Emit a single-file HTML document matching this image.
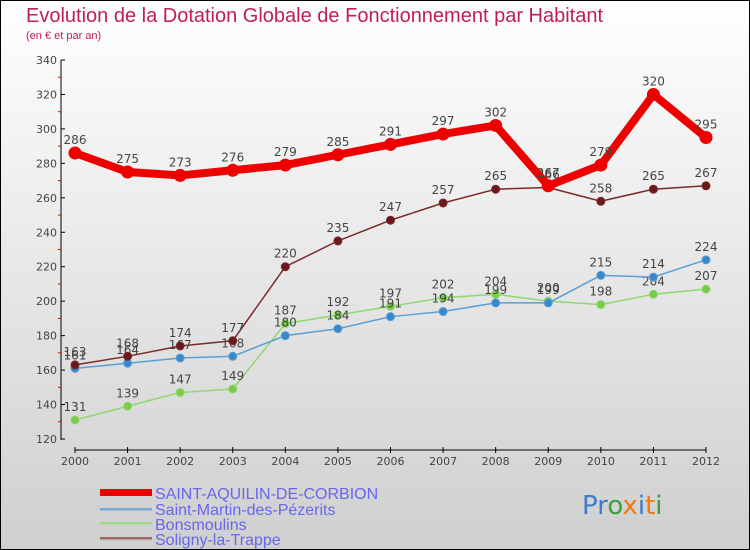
<!DOCTYPE html>
<html><head><meta charset="utf-8"><style>
body{margin:0;}
svg{display:block;font-family:"DejaVu Sans","Liberation Sans",sans-serif;}
</style></head><body>
<svg id="c" width="750" height="550" viewBox="0 0 750 550">
<defs><linearGradient id="bg" x1="0" y1="0" x2="0" y2="1"><stop offset="0" stop-color="#ffffff"/><stop offset="1" stop-color="#cfcfcf"/></linearGradient></defs>
<rect x="0.5" y="0.5" width="749" height="549" fill="url(#bg)" stroke="#000"/>
<text x="26" y="22" font-size="20" fill="#c0204f" style="font-family:'Liberation Sans',sans-serif">Evolution de la Dotation Globale de Fonctionnement par Habitant</text>
<text x="26" y="39" font-size="11" fill="#c0204f" style="font-family:'Liberation Sans',sans-serif">(en € et par an)</text>
<g id="axes"></g><g id="series"></g>
<g style="font-family:'Liberation Sans',sans-serif">
<rect x="100" y="489" width="52" height="7" fill="#ee0000"/>
<text x="155" y="499" font-size="16" fill="#6666ee">SAINT-AQUILIN-DE-CORBION</text>
<rect x="100" y="508" width="52" height="2.5" fill="#7aa9d0"/>
<text x="155" y="515" font-size="16" fill="#6666ee">Saint-Martin-des-Pézerits</text>
<rect x="100" y="522" width="52" height="2.5" fill="#9fd88a"/>
<text x="155" y="530" font-size="16" fill="#6666ee">Bonsmoulins</text>
<rect x="100" y="537" width="52" height="2.5" fill="#9a6a6a"/>
<text x="155" y="545" font-size="16" fill="#6666ee">Soligny-la-Trappe</text>
</g>
<text x="582" y="514" font-size="26"><tspan fill="#3a7dc9">Pr</tspan><tspan fill="#3aa040">o</tspan><tspan fill="#f07a10">x</tspan><tspan fill="#3a7dc9">i</tspan><tspan fill="#f07a10">t</tspan><tspan fill="#3aa040">i</tspan></text>
</svg>
<script>
const years=["2000","2001","2002","2003","2004","2005","2006","2007","2008","2009","2010","2011","2012"];
const yTicks=[120,140,160,180,200,220,240,260,280,300,320,340];
const saintAquilin=[286,275,273,276,279,285,291,297,302,267,279,320,295];
const saintMartin=[161,164,167,168,180,184,191,194,199,199,215,214,224];
const bonsmoulins=[131,139,147,149,187,192,197,202,204,200,198,204,207];
const soligny=[163,168,174,177,220,235,247,257,265,266,258,265,267];
const NS="http://www.w3.org/2000/svg";
const x0=75,x1=706,yMin=120,yMax=340,yTop=60,yBot=439;
function xs(i){return x0+(x1-x0)*i/(years.length-1);}
function ys(v){return yBot-(v-yMin)/(yMax-yMin)*(yBot-yTop);}
function mk(tag,attrs,parent){const e=document.createElementNS(NS,tag);for(const k in attrs)e.setAttribute(k,attrs[k]);parent.appendChild(e);return e;}
const ax=document.getElementById('axes');
let l=mk('line',{x1:61,y1:yTop,x2:61,y2:yBot+1,stroke:'#000'},ax);


yTicks.forEach((v,i)=>{const y=ys(v);
 let t=mk('line',{x1:61,y1:y,x2:65,y2:y,stroke:'#000'},ax);
 
 
 let tx=mk('text',{x:57,y:y+4,'font-size':11,fill:'#444','text-anchor':'end'},ax);tx.textContent=v;
 
 
 if(i<yTicks.length-1){let m=mk('line',{x1:58,y1:ys(v+10),x2:61,y2:ys(v+10),stroke:'#e00'},ax);
  
  }
});
l=mk('line',{x1:x0,y1:450,x2:x1,y2:450,stroke:'#000'},ax);


years.forEach((yr,i)=>{const x=xs(i);
 let t=mk('line',{x1:x,y1:447,x2:x,y2:453,stroke:'#000'},ax);
 
 
 let tx=mk('text',{x:x,y:465,'font-size':11,fill:'#444','text-anchor':'middle'},ax);tx.textContent=yr;
 
 
});
const sg=document.getElementById('series');
function draw(data,color,dot,w,r,name){
 const g=mk('g',{},sg);
 
 
 const p=mk('polyline',{points:data.map((v,i)=>xs(i)+','+ys(v)).join(' '),fill:'none',stroke:color,'stroke-width':w,'stroke-linejoin':'round'},g);
 
 
 data.forEach((v,i)=>{
  const c=mk('circle',{cx:xs(i),cy:ys(v),r:r,fill:dot,stroke:color,'stroke-width':1},g);
  
  
  const t=mk('text',{x:xs(i),y:ys(v)-9,'font-size':12,fill:'#444','text-anchor':'middle'},g);t.textContent=v;
  
  
 });
}
draw(bonsmoulins,'#8fd870','#7acc44',1.5,4,'bonsmoulins');
draw(saintMartin,'#5a9fd4','#3a88cc',1.5,4,'saint-martin');
draw(soligny,'#7a2a2a','#6a1a1a',1.5,4,'soligny');
draw(saintAquilin,'#ee0000','#ee0000',8,6,'saint-aquilin');
</script>
</body></html>
